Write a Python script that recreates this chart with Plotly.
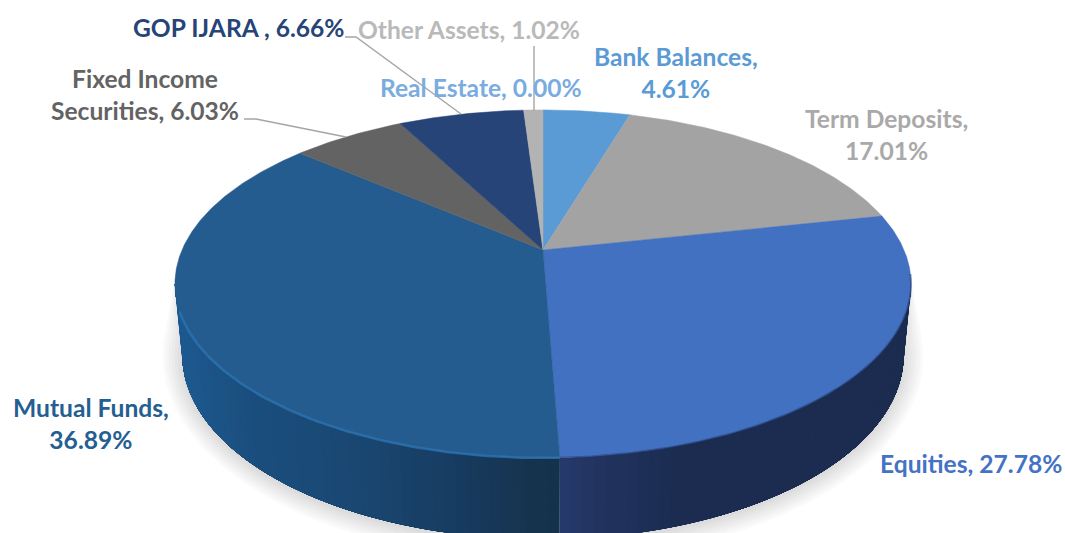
import numpy as np
import plotly.graph_objects as go

categories = ["Bank Balances", "Term Deposits", "Equities", "Mutual Funds",
              "Fixed Income Securities", "GOP IJARA ", "Other Assets", "Real Estate"]
values = [4.61, 17.01, 27.78, 36.89, 6.03, 6.66, 1.02, 0.00]
slice_colors = ["#5b9bd5", "#a3a3a3", "#4371c2", "#255c90", "#636363", "#264478", "#b3b3b3", "#7aacdf"]
label_colors = ["#5b9bd5", "#a9a9a9", "#4472c4", "#255e91", "#636363", "#264478", "#b9b9b9", "#7aacdf"]
label_x = [676, 886, 971, 91, 145, 238, 469, 481]
label_y = [72, 134, 463, 423, 94, 27, 29, 87]
label_formats = ["{n},<br>{v}%", "{n},<br>{v}%", "{n}, {v}%", "{n},<br>{v}%",
                 "Fixed Income<br>Securities, {v}%", "{n}, {v}%", "{n}, {v}%", "{n}, {v}%"]
leaders = [([244, 256, 346], [119, 119, 137]),
           ([345, 356, 461], [37, 37, 114]),
           ([534, 534], [46, 111])]

CX, CY = 543.0, 250.0   # apex
F, G, K = 361.0, 167.4, 0.195   # perspective of the top disc
MID_Y, DROP, BX, BY = 284.0, 71.0, 0.98, 1.06   # lower disc


def top(theta_deg):
    t = np.radians(theta_deg)
    u, v = np.sin(t), np.cos(t)
    d = 1 + K * v
    return CX + F * u / d, CY - G * v / d


def bottom(theta_deg):
    x, y = top(theta_deg)
    return CX + (x - CX) * BX, MID_Y + DROP + (y - MID_Y) * BY


side_x = [175, 250, 350, 450, 530, 560]
side_rgb = [(30, 90, 145), (27, 78, 126), (26, 72, 115), (24, 61, 98), (22, 52, 79), (21, 50, 76)]
side2_x = [560, 600, 680, 920]
side2_rgb = [(38, 58, 110), (34, 52, 95), (27, 44, 81), (27, 44, 80)]


def side_color(x, xs, rgb):
    arr = np.array(rgb, dtype=float)
    return "rgb(%d,%d,%d)" % tuple(np.interp(x, xs, arr[:, i]) for i in range(3))


fig = go.Figure()
edges = np.concatenate([[0], np.cumsum(values)]) * 3.6
TH_R, TH_L = 101.2, 258.8

# soft shadow beneath the disc
sil_t = np.linspace(TH_R - 6, TH_L + 6, 120)
for grow in [20, 17, 14, 11, 8, 5, 2]:
    bx, by = bottom(sil_t)
    tx, ty = top(sil_t[::-1])
    sx = CX + (bx - CX) * (1 + grow / 365)
    sy = 360 + (by - 360) * (1 + grow / 185) + 2
    fig.add_trace(go.Scatter(x=list(sx) + list(tx), y=list(sy) + list(ty), mode="lines",
                             fill="toself", fillcolor="rgba(0,0,0,0.018)",
                             line=dict(width=0), hoverinfo="skip", showlegend=False))

# side wall, split in narrow bands to carry the shading; bands overlap to avoid seams
for i, xs, rgb in [(2, side2_x, side2_rgb), (3, side_x, side_rgb)]:
    a0, a1 = max(edges[i], TH_R), min(edges[i + 1], TH_L)
    grid = np.linspace(a0, a1, int((a1 - a0) / 1.5) + 2)
    if i == 2:
        seq = [(a0, q) for q in grid[1:]][::-1]      # draw from the longest down
    else:
        seq = [(p, a1) for p in grid[:-1]]
    for p, q in seq:
        th = np.linspace(p, q, max(int(q - p) * 2, 2))
        tx, ty = top(th)
        bx, by = bottom(th[::-1])
        ref = q if i == 2 else p
        lx, _ = top(ref)
        nx, _ = top(ref + (-1.5 if i == 2 else 1.5))
        col = side_color((lx + nx) / 2, xs, rgb)
        fig.add_trace(go.Scatter(x=list(tx) + list(bx) + [tx[0]], y=list(ty) + list(by) + [ty[0]],
                                 mode="lines", fill="toself", fillcolor=col, line=dict(width=0),
                                 hoverinfo="skip", showlegend=False))

# top face wedges
for i, name in enumerate(categories):
    a0, a1 = edges[i], edges[i + 1]
    if a1 <= a0:
        continue
    th = np.linspace(a0, a1, max(int((a1 - a0) * 2), 2) + 1)
    ex, ey = top(th)
    fig.add_trace(go.Scatter(x=[CX] + list(ex) + [CX], y=[CY] + list(ey) + [CY], mode="lines",
                             fill="toself", fillcolor=slice_colors[i],
                             line=dict(width=0.5, color=slice_colors[i]),
                             name=name, text=f"{name}: {values[i]:.2f}%", hoverinfo="text",
                             showlegend=False))

# bevel on the near rim
th = np.linspace(edges[3], 250, 120)
ex, ey = top(th)
fig.add_trace(go.Scatter(x=ex, y=ey, mode="lines", line=dict(color="rgba(44,115,176,0.8)", width=2.5),
                         hoverinfo="skip", showlegend=False))
th = np.linspace(98, edges[3], 120)
ex, ey = top(th)
fig.add_trace(go.Scatter(x=ex, y=ey, mode="lines", line=dict(color="rgba(30,50,95,0.45)", width=2),
                         hoverinfo="skip", showlegend=False))

# leader lines
for lx, ly in leaders:
    fig.add_trace(go.Scatter(x=lx, y=ly, mode="lines", line=dict(color="#a5a5a5", width=1.4),
                             hoverinfo="skip", showlegend=False))

for i, name in enumerate(categories):
    txt = label_formats[i].format(n=name, v=f"{values[i]:.2f}")
    fig.add_annotation(x=label_x[i], y=label_y[i], text=txt, showarrow=False,
                       xanchor="center", yanchor="middle", align="center",
                       font=dict(family="Lato", size=24.6, color=label_colors[i], weight=700))

fig.update_xaxes(range=[0, 1065], visible=False, fixedrange=True)
fig.update_yaxes(range=[533, 0], visible=False, fixedrange=True)
fig.update_layout(width=1065, height=533, margin=dict(l=0, r=0, t=0, b=0),
                  paper_bgcolor="white", plot_bgcolor="white", showlegend=False)
fig.write_html("out.html", config={"displayModeBar": False},
               post_script="document.body.style.margin='0';document.body.style.overflow='hidden';")
